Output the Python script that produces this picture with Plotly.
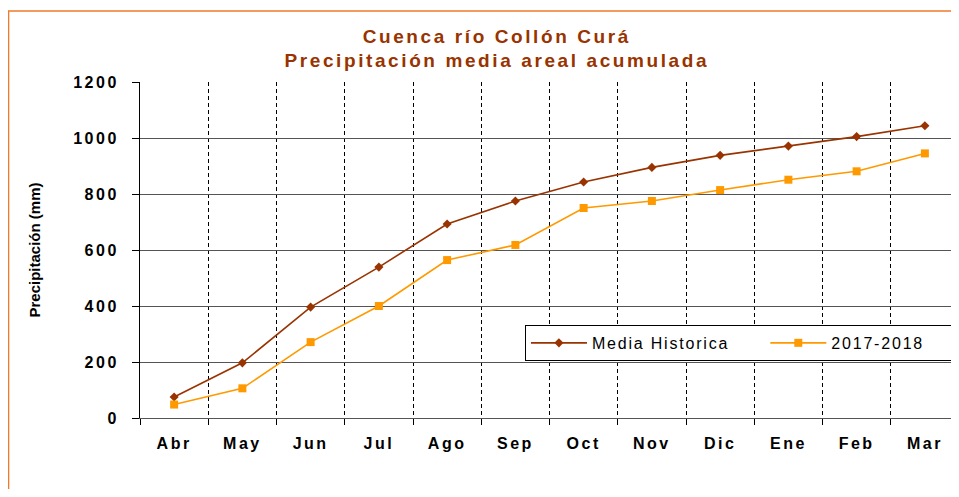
import plotly.graph_objects as go

# Monthly accumulated areal precipitation (mm), hydrological year Apr-Mar
months = ["Abr", "May", "Jun", "Jul", "Ago", "Sep", "Oct", "Nov", "Dic", "Ene", "Feb", "Mar"]
media_historica = [75, 197, 396, 539, 693, 775, 843, 895, 938, 971, 1005, 1044]
temporada_2017_2018 = [48, 106, 271, 400, 564, 618, 750, 775, 814, 851, 881, 945]
y_ticks = [0, 200, 400, 600, 800, 1000, 1200]

BROWN = "#993300"
ORANGE = "#FF9900"
FONT = "Arial, Liberation Sans, sans-serif"
NBSP = "&nbsp;"


def spaced(text, px):
    # widen text a little, like the original chart
    return f'<span style="letter-spacing:{px}px">{text}</span>'


fig = go.Figure()

fig.add_trace(
    go.Scatter(
        x=months,
        y=media_historica,
        name=spaced("Media Historica", 1.8) + NBSP * 7,
        mode="lines+markers",
        line=dict(color=BROWN, width=1.6),
        marker=dict(symbol="diamond", size=7, color=BROWN),
    )
)

fig.add_trace(
    go.Scatter(
        x=months,
        y=temporada_2017_2018,
        name=spaced("2017-2018", 1.8) + NBSP * 5,
        mode="lines+markers",
        line=dict(color=ORANGE, width=1.6),
        marker=dict(symbol="square", size=8, color=ORANGE),
    )
)

fig.update_xaxes(
    type="category",
    range=[-0.5, len(months) - 0.5],
    tickson="boundaries",
    tickmode="array",
    tickvals=months,
    ticktext=[spaced(m, 2.5) for m in months],
    ticks="outside",
    ticklen=6,
    tickcolor="black",
    ticklabelstandoff=11,
    showgrid=True,
    gridcolor="black",
    gridwidth=1,
    griddash="4px,3px",
    showline=True,
    linecolor="#555555",
    tickfont=dict(family=FONT, size=16, color="black", weight="bold"),
)

fig.update_yaxes(
    range=[0, 1200],
    tickmode="array",
    tickvals=y_ticks,
    ticktext=[spaced(str(v), 2.5) for v in y_ticks],
    ticks="outside",
    ticklen=7,
    tickcolor="black",
    ticklabelstandoff=10,
    showgrid=True,
    gridcolor="#555555",
    gridwidth=1,
    zeroline=False,
    showline=True,
    linecolor="black",
    tickfont=dict(family=FONT, size=16, color="black", weight="bold"),
    title=dict(
        text="Precipitación (mm)",
        font=dict(family=FONT, size=15, color="black", weight="bold"),
        standoff=28,
    ),
)

# orange frame around the chart area (right and bottom sides fall outside the picture)
fig.add_shape(
    type="rect",
    xref="paper",
    yref="paper",
    x0=-0.1605,
    x1=1.3,
    y0=-0.6,
    y1=1.2113,
    line=dict(color="#F07A2A", width=1.5),
    fillcolor="rgba(0,0,0,0)",
    layer="below",
)

fig.update_layout(
    width=951,
    height=481,
    margin=dict(l=132, r=0, t=74, b=71),
    paper_bgcolor="white",
    plot_bgcolor="white",
    font=dict(family=FONT, color="black"),
    title=dict(
        text=spaced("Cuenca río Collón Curá", 2.6) + "<br>" + spaced("Precipitación media areal acumulada", 2.6),
        x=0.514,
        xanchor="center",
        xref="container",
        y=0.928,
        yanchor="top",
        yref="container",
        font=dict(family=FONT, size=19, color=BROWN, weight="bold"),
    ),
    legend=dict(
        orientation="h",
        x=0.47,
        xanchor="left",
        y=0.277,
        yanchor="top",
        bgcolor="white",
        bordercolor="black",
        borderwidth=1,
        itemwidth=56,
        font=dict(family=FONT, size=16, color="black"),
    ),
    showlegend=True,
)

fig.write_html("out.html")
